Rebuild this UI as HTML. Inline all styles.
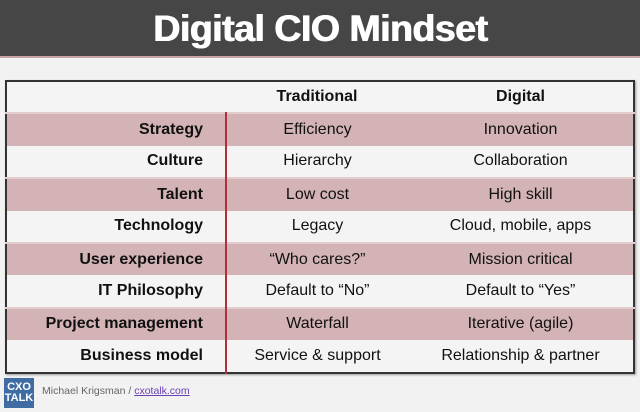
<!DOCTYPE html>
<html><head><meta charset="utf-8">
<style>
*{margin:0;padding:0;box-sizing:border-box}
body{width:640px;height:412px;background:#f2f2f2;font-family:"Liberation Sans",sans-serif;position:relative;overflow:hidden}
#hdr{position:absolute;left:0;top:0;width:640px;height:58px;background:#464646;border-bottom:2px solid #c9a3a5;text-align:center;color:#fff;font-weight:900;font-size:37.5px;line-height:56px;letter-spacing:-0.5px;text-shadow:1px 0 0 #fff}
#tbl{position:absolute;left:5px;top:80px;width:628px;height:291px;border:2px solid #333;border-collapse:collapse;table-layout:fixed;box-shadow:1px 1px 2px #999}
#tbl td{height:32.4px;font-size:16px;color:#111;white-space:nowrap}
#tbl td.l{text-align:right;padding-right:22px;font-weight:bold;border-right:2px solid #b0303a}
#tbl td.c{text-align:center}
#tbl tr.h td{font-weight:bold;background:#f4f4f4}
#tbl tr.b td{background:#d3b3b5;border-top:2px solid #e2cccd}
#tbl tr.w td{background:#f4f4f4}
#logo{position:absolute;left:4px;top:378px;width:30px;height:30px;background:#3f6da3;color:#fff;font-weight:bold;font-size:11px;line-height:11px;text-align:center;padding-top:4px}
#by{position:absolute;left:42px;top:385px;font-size:10.5px;color:#666}
#by a{color:#6a3fb0;text-decoration:underline}
</style></head><body>
<div id="hdr">Digital CIO Mindset</div>
<table id="tbl">
<colgroup><col style="width:220px"><col style="width:182px"><col style="width:226px"></colgroup>
<tr class="h"><td class="l" style="border-right:none"></td><td class="c">Traditional</td><td class="c">Digital</td></tr>
<tr class="b"><td class="l">Strategy</td><td class="c">Efficiency</td><td class="c">Innovation</td></tr>
<tr class="w"><td class="l">Culture</td><td class="c">Hierarchy</td><td class="c">Collaboration</td></tr>
<tr class="b"><td class="l">Talent</td><td class="c">Low cost</td><td class="c">High skill</td></tr>
<tr class="w"><td class="l">Technology</td><td class="c">Legacy</td><td class="c">Cloud, mobile, apps</td></tr>
<tr class="b"><td class="l">User experience</td><td class="c">“Who cares?”</td><td class="c">Mission critical</td></tr>
<tr class="w"><td class="l">IT Philosophy</td><td class="c">Default to “No”</td><td class="c">Default to “Yes”</td></tr>
<tr class="b"><td class="l">Project management</td><td class="c">Waterfall</td><td class="c">Iterative (agile)</td></tr>
<tr class="w"><td class="l">Business model</td><td class="c">Service &amp; support</td><td class="c">Relationship &amp; partner</td></tr>
</table>
<div id="logo">CXO<br>TALK</div>
<div id="by">Michael Krigsman / <a>cxotalk.com</a></div>
</body></html>
